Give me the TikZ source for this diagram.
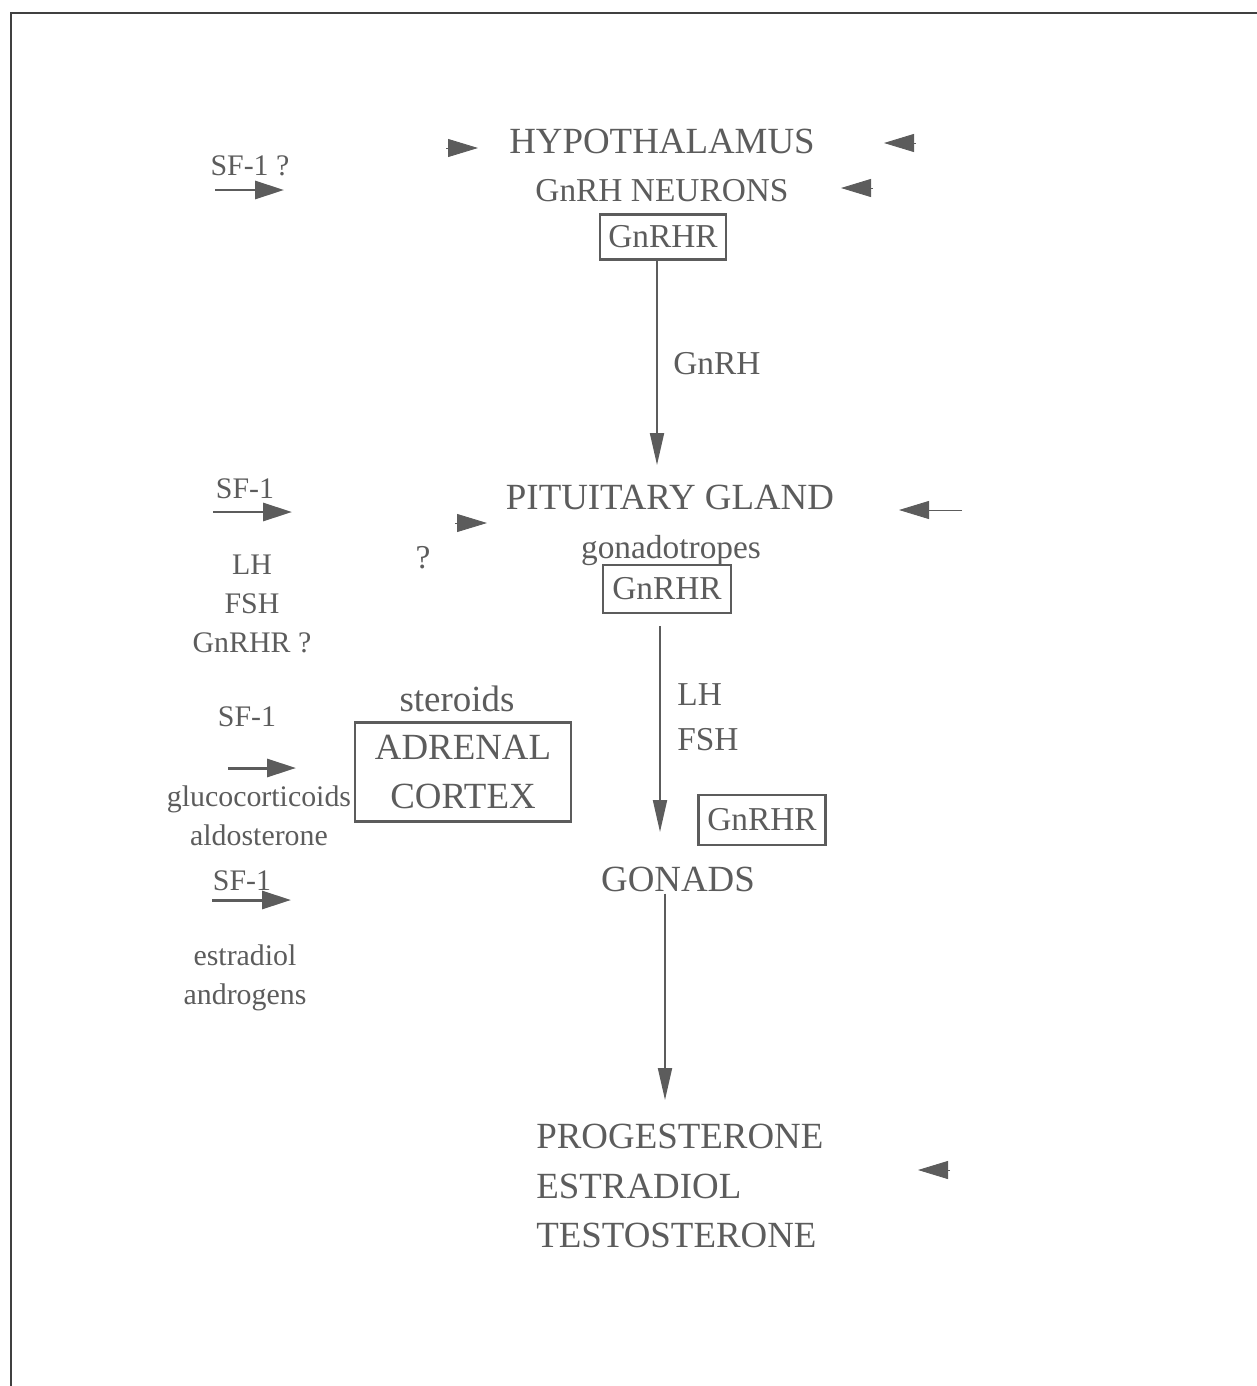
\documentclass[tikz,border=0pt]{standalone}
\usepackage{fontspec}
\setmainfont{Liberation Serif}
\usetikzlibrary{arrows.meta}
\definecolor{ink}{gray}{0.36}
\definecolor{rim}{gray}{0.25}
\tikzset{
  big/.style={font=\fontsize{21}{28}\selectfont},
  mid/.style={font=\fontsize{19}{25.6}\selectfont},
  small/.style={font=\fontsize{17}{22}\selectfont},
  recbox/.style={draw=ink, line width=1.2pt, inner sep=0pt},
  flow/.style={draw=ink, line width=1.1pt, -{Triangle[length=0.64cm,width=0.28cm]}},
  sfarrow/.style={draw=ink, line width=1.7pt, -{Triangle[length=0.58cm,width=0.36cm]}},
  tiponly/.style={draw=ink, line width=0.5pt, -{Triangle[length=0.6cm,width=0.36cm]}}
}
\begin{document}
\begin{tikzpicture}[x=0.02cm, y=-0.02cm, every node/.style={text=ink, inner sep=0pt}]
	\useasboundingbox (0,0) rectangle (1257,1386);
	\draw[rim, line width=1.7pt] (11,1386) -- (11,13) -- (1257,13);
	% main axis
	\node[big, anchor=base] (hyp) at (662,153) {HYPOTHALAMUS};
	\node[mid, anchor=base] (neur) at (662,201) {GnRH NEURONS};
	\node[recbox, mid, minimum width=2.52cm, minimum height=0.9cm] (rcpA) at (663,237) {GnRHR};
	\node[mid, anchor=base west] (gnrh) at (673,374) {GnRH};
	\node[big, anchor=base] (pit) at (670,509) {PITUITARY GLAND};
	\node[mid, anchor=base] (gon) at (671,558) {gonadotropes};
	\node[recbox, mid, minimum width=2.56cm, minimum height=0.96cm] (rcpB) at (667,589) {GnRHR};
	\node[mid, align=left, anchor=west] (lhfsh) at (677,717) {LH\\FSH};
	\node[recbox, mid, minimum width=2.54cm, minimum height=1cm] (rcpC) at (762,820) {GnRHR};
	\node[big, anchor=base] (gonads) at (678,891) {GONADS};
	\node[big, align=left, anchor=west, font=\fontsize{21}{28}\selectfont] (ster) at (536,1186) {PROGESTERONE\\ESTRADIOL\\TESTOSTERONE};
	\coordinate (tipA) at (657,465);
	\coordinate (tipB) at (660,832);
	\coordinate (tipC) at (665,1100);
	\draw[flow] (rcpA.south -| tipA) -- (tipA);
	\draw[flow] ([yshift=-0.24cm]rcpB.south -| tipB) -- (tipB);
	\draw[flow] ([yshift=-0.04cm]gonads.south -| tipC) -- (tipC);
	% adrenal
	\node[big, anchor=base] (strd) at (457,711) {steroids};
	\node[recbox, big, align=center, minimum width=4.32cm, minimum height=1.98cm] (adr) at (463,772) {ADRENAL\\CORTEX};
	\node[mid, anchor=base] (qm) at (423,568) {?};
	% left column
	\node[small, anchor=base] (sfA) at (250,175) {SF-1 ?};
	\node[small, anchor=base] (sfB) at (245,498) {SF-1};
	\node[small, align=center] (pitout) at (252,604) {LH\\FSH\\GnRHR ?};
	\node[small, anchor=base] (sfC) at (247,726) {SF-1};
	\node[small, align=center] (adrout) at (259,816) {glucocorticoids\\aldosterone};
	\node[small, anchor=base] (sfD) at (242,890) {SF-1};
	\node[small, align=center] (gonout) at (245,978) {estradiol\\androgens};
	\coordinate (sfAt) at (215,190);  \coordinate (sfAh) at (284,190);
	\coordinate (sfBt) at (213,512);  \coordinate (sfBh) at (292,512);
	\coordinate (sfCt) at (228,768);  \coordinate (sfCh) at (296,768);
	\coordinate (sfDt) at (212,900);  \coordinate (sfDh) at (291,900);
	\draw[sfarrow] (sfAt) -- (sfAh);
	\draw[sfarrow] (sfBt) -- (sfBh);
	\draw[sfarrow] (sfCt) -- (sfCh);
	\draw[sfarrow] (sfDt) -- (sfDh);
	% faded feedback arrows, heads only
	\coordinate (fbAt) at (446,148);  \coordinate (fbAh) at (478,148);
	\coordinate (fbBt) at (916,143);  \coordinate (fbBh) at (884,143);
	\coordinate (fbCt) at (873,188);  \coordinate (fbCh) at (841,188);
	\coordinate (fbDt) at (455,523);  \coordinate (fbDh) at (487,523);
	\coordinate (fbEt) at (962,510);  \coordinate (fbEh) at (899,510);
	\coordinate (fbFt) at (950,1170); \coordinate (fbFh) at (918,1170);
	\foreach \f in {A,B,C,D,E,F}
		\draw[tiponly] (fb\f t) -- (fb\f h);
\end{tikzpicture}
\end{document}
